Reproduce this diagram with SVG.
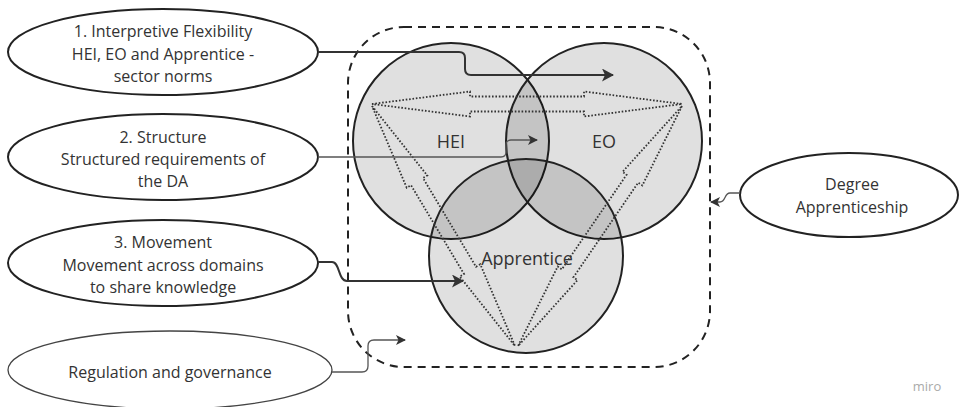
<svg xmlns="http://www.w3.org/2000/svg" width="960" height="407" viewBox="0 0 960 407">
<style>
  text { font-family: "Open Sans", "Noto Sans", "Liberation Sans", sans-serif; fill: #333; text-anchor: middle; dominant-baseline: central; }
  .lbl { font-size: 16px; }
  .ell { fill: #fff; stroke: #222; stroke-width: 2; }
  .ell-thin { fill: #fff; stroke: #444; stroke-width: 1.3; }
  .circ { fill: #000; fill-opacity: 0.12; stroke: #222; stroke-width: 2; }
  .dots { fill: none; stroke: #333; stroke-width: 1.8; stroke-dasharray: 1.6 1.8; stroke-linejoin: miter; }
  .conn { fill: none; stroke: #333; stroke-width: 2; }
  .conn-thin { fill: none; stroke: #555; stroke-width: 1.3; }
</style>
<defs>
  <marker id="ah" markerUnits="userSpaceOnUse" markerWidth="14" markerHeight="14" refX="11" refY="6.5" orient="auto">
    <path d="M0,0 L12,6.5 L0,13 L3,6.5 z" fill="#333"/>
  </marker>
  <marker id="ah-s" markerUnits="userSpaceOnUse" markerWidth="11" markerHeight="11" refX="9" refY="5" orient="auto">
    <path d="M0,0 L10,5 L0,10 L2.5,5 z" fill="#333"/>
  </marker>
</defs>

<g id="boundary">
  <rect x="348" y="27" width="362" height="340" rx="56" ry="56" fill="none" stroke="#222" stroke-width="2" stroke-dasharray="8 6"/>
</g>

<g id="hei">
  <circle class="circ" cx="451" cy="141" r="98"/>
  <text x="451" y="141" style="font-size:18px">HEI</text>
</g>
<g id="eo">
  <circle class="circ" cx="604" cy="141" r="98"/>
  <text x="604" y="141" style="font-size:18px">EO</text>
</g>
<g id="apprentice">
  <circle class="circ" cx="526" cy="256" r="97"/>
  <text x="527" y="258" style="font-size:18px">Apprentice</text>
</g>

<g id="flows">
  <polygon class="dots" points="372,104 470,91.5 470,96.5 584,96.5 584,91.5 682,104 584,116.5 584,111.5 470,111.5 470,116.5"/>
  <polygon class="dots" points="372,106 427.3,175.5 423,178 476,266.8 480.3,264.3 515,346 459.7,276.5 464,274 411,185.2 406.7,187.7"/>
  <polygon class="dots" points="682,106 642.3,185.5 638.2,182.6 573.4,277.3 577.5,280.1 518,346 557.7,266.5 561.8,269.4 626.6,174.7 622.5,171.9"/>
</g>

<g id="n1">
  <ellipse class="ell" cx="163" cy="52" rx="155" ry="43"/>
  <text class="lbl" x="163" y="31">1. Interpretive Flexibility</text>
  <text class="lbl" x="163" y="54">HEI, EO and Apprentice -</text>
  <text class="lbl" x="163" y="76">sector norms</text>
</g>
<g id="n2">
  <ellipse class="ell" cx="163" cy="157" rx="155" ry="43"/>
  <text class="lbl" x="163" y="137">2. Structure</text>
  <text class="lbl" x="163" y="159">Structured requirements of</text>
  <text class="lbl" x="163" y="181">the DA</text>
</g>
<g id="n3">
  <ellipse class="ell" cx="163" cy="263" rx="155" ry="43"/>
  <text class="lbl" x="163" y="242">3. Movement</text>
  <text class="lbl" x="163" y="265">Movement across domains</text>
  <text class="lbl" x="163" y="287">to share knowledge</text>
</g>
<g id="n4">
  <ellipse class="ell-thin" cx="170" cy="370" rx="162" ry="39"/>
  <text class="lbl" x="170" y="372">Regulation and governance</text>
</g>
<g id="n5">
  <ellipse class="ell" cx="849" cy="195" rx="109" ry="42"/>
  <text class="lbl" x="852" y="184">Degree</text>
  <text class="lbl" x="852" y="207">Apprenticeship</text>
</g>

<g id="connectors">
  <path class="conn" d="M318,52 H459 Q465,52 465,58 V69 Q465,75 471,75 H613" marker-end="url(#ah)"/>
  <path class="conn-thin" d="M318,157 H501 Q506,157 506,152 V145 Q506,140 511,140 H537" marker-end="url(#ah-s)"/>
  <path class="conn" d="M318,262 H332 C340,262 338,281 347,281 H463" marker-end="url(#ah)"/>
  <path class="conn-thin" d="M332,372 H362 Q368,372 368,366 V346 Q368,340 374,340 H405" marker-end="url(#ah-s)"/>
  <path class="conn-thin" d="M740,193 H730 C724,193 726,202 720,202 H711" marker-end="url(#ah-s)"/>
</g>

<text x="927" y="386" style="font-size:13px;fill:#aaa">miro</text>
</svg>
